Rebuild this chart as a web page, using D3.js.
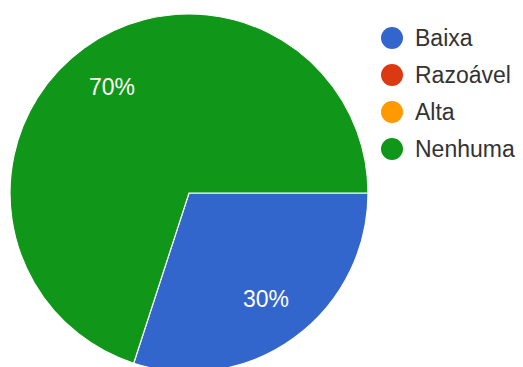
<!DOCTYPE html>
<html>
<head>
<meta charset="utf-8">
<script src="https://cdn.jsdelivr.net/npm/d3@7"></script>
<style>
  html, body { margin: 0; padding: 0; background: #fff; }
  svg { display: block; }
</style>
</head>
<body>
<svg id="chart" width="523" height="367"></svg>
<script>
// Answer categories and their share of responses
const categories = ["Baixa", "Razoável", "Alta", "Nenhuma"];
const values = [30, 0, 0, 70];
const colors = ["#3366cc", "#dc3912", "#ff9900", "#109618"];

const width = 523, height = 367;
const cx = 189, cy = 193, radius = 179;

const svg = d3.select("#chart");
const g = svg.append("g").attr("transform", `translate(${cx},${cy})`);

const data = categories.map((c, i) => ({ name: c, value: values[i], color: colors[i] }));

// Slices begin at 3 o'clock and run clockwise in category order
const pie = d3.pie()
  .sort(null)
  .value(d => d.value)
  .startAngle(Math.PI / 2)
  .endAngle(Math.PI / 2 + 2 * Math.PI);

const arcs = pie(data).filter(d => d.data.value > 0);
const arc = d3.arc().innerRadius(0).outerRadius(radius);
const labelArc = d3.arc().innerRadius(131).outerRadius(131);

g.selectAll("path.slice")
  .data(arcs)
  .join("path")
  .attr("class", "slice")
  .attr("d", arc)
  .attr("fill", d => d.data.color)
  .attr("stroke", "#ffffff")
  .attr("stroke-width", 1.2);

const total = d3.sum(values);
g.selectAll("text.pct")
  .data(arcs)
  .join("text")
  .attr("class", "pct")
  .attr("transform", d => `translate(${labelArc.centroid(d)})`)
  .attr("text-anchor", "middle")
  .attr("dy", "0.36em")
  .attr("fill", "#ffffff")
  .style("font-family", "Arial, 'Liberation Sans', sans-serif")
  .style("font-size", "23px")
  .text(d => Math.round(d.data.value / total * 100) + "%");

// Legend
const legend = svg.append("g").attr("transform", "translate(392,38)");
const rowStep = 37;
const items = legend.selectAll("g.item")
  .data(data)
  .join("g")
  .attr("class", "item")
  .attr("transform", (d, i) => `translate(0,${i * rowStep})`);

items.append("circle")
  .attr("r", 11)
  .attr("fill", d => d.color);

items.append("text")
  .attr("x", 23)
  .attr("dy", "0.35em")
  .attr("fill", "#333333")
  .style("font-family", "Arial, 'Liberation Sans', sans-serif")
  .style("font-size", "23px")
  .text(d => d.name);
</script>
</body>
</html>
